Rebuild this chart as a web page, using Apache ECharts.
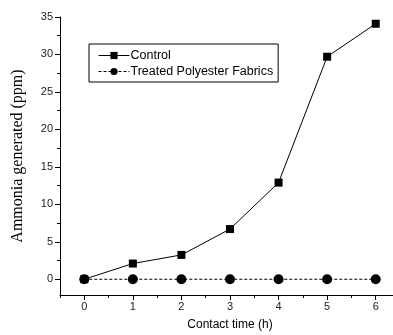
<!DOCTYPE html>
<html>
<head>
<meta charset="utf-8">
<script src="https://cdn.jsdelivr.net/npm/echarts@6/dist/echarts.min.js"></script>
<style>html,body{margin:0;padding:0;background:#fff}#c{width:393px;height:335px}</style>
</head>
<body>
<div id="c"></div>
<script>
var hours = [0, 1, 2, 3, 4, 5, 6];
var control = [0, 2.1, 3.25, 6.7, 12.9, 29.7, 34.1];
var treated = [0, 0, 0, 0, 0, 0, 0];
var xLabels = [0, 1, 2, 3, 4, 5, 6];
var xMinor = [-0.5, 0.5, 1.5, 2.5, 3.5, 4.5, 5.5];
var yLabels = [0, 5, 10, 15, 20, 25, 30, 35];
var yMinor = [2.5, 7.5, 12.5, 17.5, 22.5, 27.5, 32.5];

function pairs(xs, ys) { return xs.map(function (x, i) { return [x, ys[i]]; }); }

var chart = echarts.init(document.getElementById('c'), null, {renderer: 'canvas'});
chart.setOption({
  animation: false,
  grid: {left: 60, width: 340, top: 17, bottom: 40, containLabel: false, outerBoundsMode: 'none'},
  legend: {
    orient: 'vertical', left: 89, top: 44,
    borderColor: '#000', borderWidth: 1, borderRadius: 0,
    padding: [5, 5, 4, 9], itemGap: 3, itemWidth: 31, itemHeight: 9,
    lineStyle: {width: 1},
    textStyle: {color: '#000', fontFamily: 'Liberation Sans, Arial', fontSize: 12.5, padding: [0, 0, 0, -4]},
    data: ['Control', 'Treated Polyester Fabrics']
  },
  xAxis: [{
    type: 'value', min: -0.5, max: 6.5,
    name: 'Contact time (h)', nameLocation: 'middle', nameGap: 24,
    nameTextStyle: {color: '#000', fontFamily: 'Liberation Sans, Arial', fontSize: 12},
    axisLine: {onZero: false, lineStyle: {color: '#000', width: 1}},
    axisTick: {show: true, length: 5, inside: false, customValues: xLabels, lineStyle: {color: '#000'}},
    axisLabel: {customValues: xLabels, margin: 6, color: '#222', fontFamily: 'Liberation Sans, Arial', fontSize: 11},
    splitLine: {show: false}
  }, {
    type: 'value', min: -0.5, max: 6.5, position: 'bottom',
    axisLine: {show: false, onZero: false},
    axisTick: {show: true, length: 3, customValues: xMinor, lineStyle: {color: '#000'}},
    axisLabel: {show: false},
    splitLine: {show: false}
  }],
  yAxis: [{
    type: 'value', min: -2.1, max: 35,
    name: 'Ammonia generated (ppm)', nameLocation: 'middle', nameGap: 34, nameRotate: 90,
    nameTextStyle: {color: '#000', fontFamily: 'Liberation Serif, Times New Roman', fontSize: 16},
    axisLine: {show: true, onZero: false, lineStyle: {color: '#000', width: 1}},
    axisTick: {show: true, length: 5, customValues: yLabels, lineStyle: {color: '#000'}},
    axisLabel: {customValues: yLabels, margin: 7, color: '#222', fontFamily: 'Liberation Sans, Arial', fontSize: 11},
    splitLine: {show: false}
  }, {
    type: 'value', min: -2.1, max: 35, position: 'left',
    axisLine: {show: false, onZero: false},
    axisTick: {show: true, length: 3, customValues: yMinor, lineStyle: {color: '#000'}},
    axisLabel: {show: false},
    splitLine: {show: false}
  }],
  series: [{
    name: 'Control', type: 'line', data: pairs(hours, control),
    symbol: 'rect', symbolSize: 8,
    itemStyle: {color: '#000'},
    lineStyle: {color: '#000', width: 1, type: 'solid'}
  }, {
    name: 'Treated Polyester Fabrics', type: 'line', data: pairs(hours, treated),
    symbol: 'circle', symbolSize: 10,
    itemStyle: {color: '#000'},
    lineStyle: {color: '#000', width: 1, type: [3, 2]}
  }]
});
</script>
</body>
</html>
